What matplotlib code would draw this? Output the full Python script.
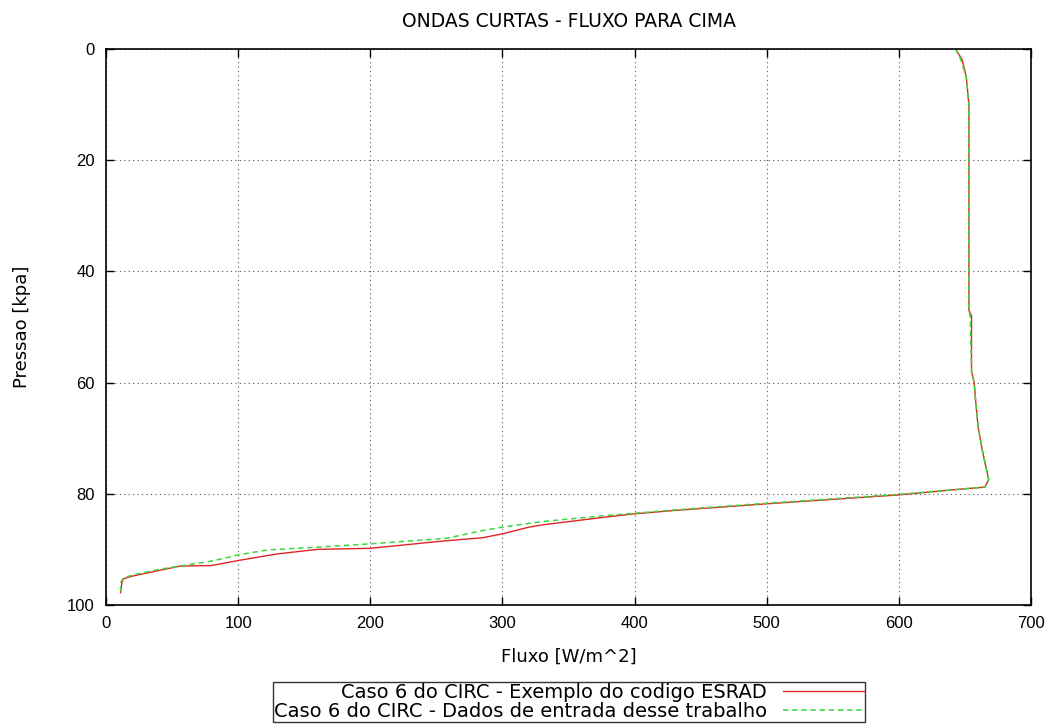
import matplotlib
matplotlib.use("Agg")
import matplotlib.pyplot as plt

plt.rcParams['font.family'] = ['Liberation Sans', 'DejaVu Sans']

title = "ONDAS CURTAS - FLUXO PARA CIMA"
xlabel = "Fluxo [W/m^2]"
ylabel = "Pressao [kpa]"
label_esrad = "Caso 6 do CIRC - Exemplo do codigo ESRAD"
label_dados = "Caso 6 do CIRC - Dados de entrada desse trabalho"

# ESRAD example (red)
esrad_flux = [643, 648, 651, 653, 653, 653, 655, 655, 657, 658, 660, 663, 668, 665, 640, 600,
              550, 500, 465, 430, 400, 374, 330, 320, 300, 285, 255, 200, 160, 130, 100, 80,
              56, 40, 20, 13, 12, 11]
esrad_p = [0, 2, 5, 10, 20, 47, 48, 58, 60, 63, 68, 72, 77.5, 78.8, 79.3, 80.2,
           81, 81.8, 82.4, 83, 83.6, 84.3, 85.6, 86, 87.2, 87.9, 88.5, 89.8, 90, 90.8, 92, 92.9,
           93, 93.8, 94.8, 95.3, 96, 97.8]

# Dados de entrada (green)
dados_flux = [643, 647, 651, 653, 653, 653, 654, 655, 657, 658, 660, 663, 668, 665, 640, 600,
              550, 500, 465, 430, 400, 374, 330, 300, 285, 258, 200, 160, 122, 100, 80,
              56, 40, 20, 13, 11, 11]
dados_p = [0, 2, 5, 10, 20, 47, 48, 58, 60, 63, 68, 72, 77.5, 78.8, 79.3, 80.1,
           80.9, 81.7, 82.3, 82.9, 83.5, 84, 85, 86, 86.6, 88, 89, 89.6, 90.1, 91, 92.1,
           93, 93.6, 94.6, 95.2, 96, 97.5]

xticks = [0, 100, 200, 300, 400, 500, 600, 700]
yticks = [0, 20, 40, 60, 80, 100]

fig = plt.figure(figsize=(10.59, 7.26), dpi=100)
ax = fig.add_axes([106/1059, 1-605/726, (1031-106)/1059, (605-49)/726])

ax.plot(esrad_flux, esrad_p, color='#e02525', lw=1.0, label=label_esrad)
ax.plot(dados_flux, dados_p, color='#3ad83a', lw=1.1, ls=(0, (3.5, 2.5)), label=label_dados)

ax.set_xlim(0, 700)
ax.set_ylim(100, 0)
ax.set_xticks(xticks)
ax.set_yticks(yticks)
ax.tick_params(direction='in', length=6, width=1, labelsize=12, pad=8, top=True, right=True,
               labeltop=False, labelright=False)
ax.grid(True, color='#555555', ls=(0, (1, 3)), lw=0.8)
for s in ax.spines.values():
    s.set_linewidth(1.2)

wide = ['DejaVu Sans']
ax.set_title(title, fontsize=13.5, pad=16, family=wide)
ax.set_xlabel(xlabel, fontsize=13, labelpad=12, family=wide)
ax.set_ylabel(ylabel, fontsize=13, labelpad=26, family=wide)

leg = fig.legend(loc='lower center', bbox_to_anchor=(569/1059, 4/726), markerfirst=False,
                 prop={'family': 'DejaVu Sans', 'size': 14}, frameon=True, fancybox=False,
                 edgecolor='black', handlelength=4.2, borderpad=0.05, labelspacing=0.0,
                 handletextpad=0.8, borderaxespad=0)
leg.get_frame().set_linewidth(1.0)

fig.savefig("out.png", dpi=100)
